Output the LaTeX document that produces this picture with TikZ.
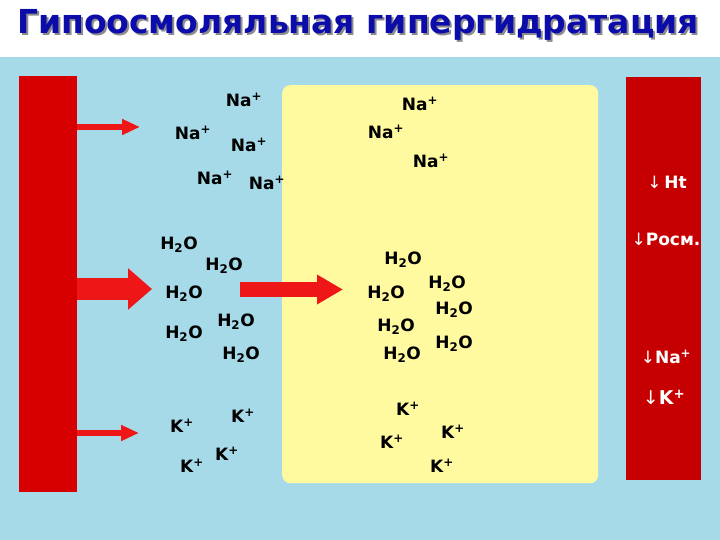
\documentclass[tikz,border=0pt]{standalone}
\usepackage{fontspec}
\setmainfont{DejaVu Sans}
\usetikzlibrary{arrows.meta}

\definecolor{sky}{RGB}{166,218,232}
\definecolor{barred}{RGB}{214,0,0}
\definecolor{darkred}{RGB}{198,0,0}
\definecolor{arrred}{RGB}{238,22,22}
\definecolor{pale}{RGB}{255,250,160}
\definecolor{titleblue}{RGB}{12,12,170}

\newcommand{\shadowed}[1]{{\color{black!45}\rlap{\kern2pt\raisebox{-2pt}{#1}}}#1}

\begin{document}
\begin{tikzpicture}[x=1pt,y=-1pt,
	ion/.style={font=\fontsize{17}{20}\selectfont\bfseries, inner sep=0pt},
	shiftlbl/.style={ion, text=white},
	bar/.style={inner sep=0pt, anchor=north west},
	thinarr/.style={draw=arrred, line width=6pt, -{Triangle[length=18pt,width=15pt]}},
	fatarr/.style={draw=arrred, line width=22pt, -{Triangle[length=24pt,width=40pt]}}
	]
	\useasboundingbox (0,0) rectangle (720,540);
	\fill[white] (0,0) rectangle (720,540);
	\fill[sky] (0,57) rectangle (720,540);
	
	% title
	\node (title) [font=\fontsize{33}{36}\selectfont\bfseries, text=titleblue, inner sep=0pt] at (358,26) {\shadowed{Гипоосмоляльная гипергидратация}};
	
	% bars and cell
	\node (lbar) [bar, fill=barred, minimum width=58pt, minimum height=416pt] at (19,76) {};
	\node (rbar) [bar, fill=darkred, minimum width=75pt, minimum height=403pt] at (626,77) {};
	\node (cell) [bar, fill=pale, rounded corners=8pt, minimum width=316pt, minimum height=398pt] at (282,85) {};
	
	% arrows
	\coordinate (na in) at (140,127);
	\coordinate (w in) at (152,289);
	\coordinate (k in) at (139,433);
	\coordinate (w out) at (240,289.5);
	\coordinate (w cell) at (343,289.5);
	\draw [thinarr] (lbar.east |- na in) -- (na in);
	\draw [fatarr] (lbar.east |- w in) -- (w in);
	\draw [thinarr] (lbar.east |- k in) -- (k in);
	\draw [draw=arrred, line width=15pt, -{Triangle[length=26pt,width=28pt]}] (w out) -- (w cell);
	
	% outside the cell
	\node (na1) [ion] at (244,100) {Na\textsuperscript{+}};
	\node (na2) [ion] at (193,133) {Na\textsuperscript{+}};
	\node (na3) [ion] at (249,145) {Na\textsuperscript{+}};
	\node (na4) [ion] at (215,178) {Na\textsuperscript{+}};
	\node (na5) [ion] at (267,183) {Na\textsuperscript{+}};
	
	\node (w1) [ion] at (179,245) {H\textsubscript{2}O};
	\node (w2) [ion] at (224,266) {H\textsubscript{2}O};
	\node (w3) [ion] at (184,294) {H\textsubscript{2}O};
	\node (w4) [ion] at (236,322) {H\textsubscript{2}O};
	\node (w5) [ion] at (184,334) {H\textsubscript{2}O};
	\node (w6) [ion] at (241,355) {H\textsubscript{2}O};
	
	\node (k1) [ion] at (243,416) {K\textsuperscript{+}};
	\node (k2) [ion] at (182,426) {K\textsuperscript{+}};
	\node (k3) [ion] at (227,454) {K\textsuperscript{+}};
	\node (k4) [ion] at (192,466) {K\textsuperscript{+}};
	
	% inside the cell
	\node (cna1) [ion] at (420,104) {Na\textsuperscript{+}};
	\node (cna2) [ion] at (386,132) {Na\textsuperscript{+}};
	\node (cna3) [ion] at (431,161) {Na\textsuperscript{+}};
	
	\node (cw1) [ion] at (403,260) {H\textsubscript{2}O};
	\node (cw2) [ion] at (447,284) {H\textsubscript{2}O};
	\node (cw3) [ion] at (386,294) {H\textsubscript{2}O};
	\node (cw4) [ion] at (454,310) {H\textsubscript{2}O};
	\node (cw5) [ion] at (396,327) {H\textsubscript{2}O};
	\node (cw6) [ion] at (454,344) {H\textsubscript{2}O};
	\node (cw7) [ion] at (402,355) {H\textsubscript{2}O};
	
	\node (ck1) [ion] at (408,409) {K\textsuperscript{+}};
	\node (ck2) [ion] at (453,432) {K\textsuperscript{+}};
	\node (ck3) [ion] at (392,442) {K\textsuperscript{+}};
	\node (ck4) [ion] at (442,466) {K\textsuperscript{+}};
	
	% shifts in the plasma
	\node (ht) [shiftlbl] at (667,182) {{\mdseries↓}\,Ht};
	\node (posm) [shiftlbl] at (666,239) {{\mdseries↓}Росм.};
	\node (sna) [shiftlbl] at (666,357) {{\mdseries↓}Na\textsuperscript{+}};
	\node (sk) [shiftlbl, font=\fontsize{19}{22}\selectfont\bfseries] at (664,397) {{\mdseries↓}K\textsuperscript{+}};
\end{tikzpicture}
\end{document}
